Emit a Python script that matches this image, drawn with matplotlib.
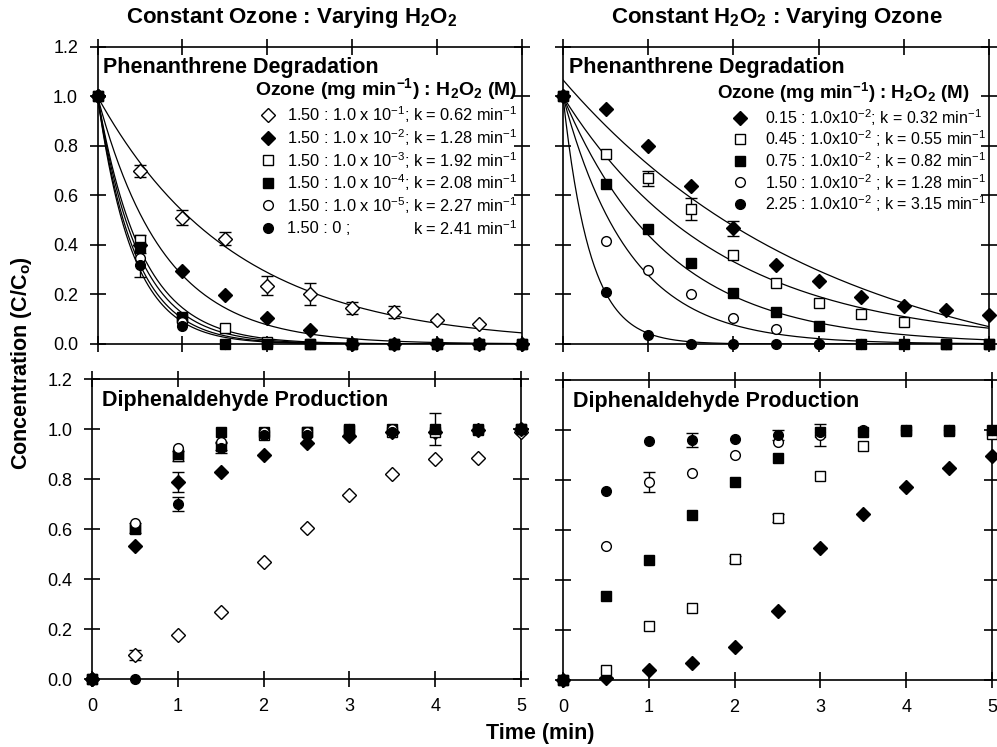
"""Phenanthrene degradation / diphenaldehyde production, 2x2 panel figure."""
import numpy as np
import matplotlib
matplotlib.use("Agg")
import matplotlib.pyplot as plt

plt.rcParams["font.family"] = ["Liberation Sans", "DejaVu Sans"]
plt.rcParams["mathtext.fontset"] = "custom"
plt.rcParams["mathtext.rm"] = "Liberation Sans"
plt.rcParams["mathtext.it"] = "Liberation Sans:italic"
plt.rcParams["mathtext.bf"] = "Liberation Sans:bold"

nan = np.nan
time = [0, 0.5, 1, 1.5, 2, 2.5, 3, 3.5, 4, 4.5, 5]

# ---- constant ozone, varying H2O2 ----
left_labels = [r"1.50 : 1.0 x 10$^{-1}$;", r"1.50 : 1.0 x 10$^{-2}$;",
               r"1.50 : 1.0 x 10$^{-3}$;", r"1.50 : 1.0 x 10$^{-4}$;",
               r"1.50 : 1.0 x 10$^{-5}$;", "1.50 : 0 ;"]
left_k = [0.62, 1.28, 1.92, 2.08, 2.27, 2.41]

phen_left = [
    [1.0, 0.70, 0.51, 0.425, 0.236, 0.202, 0.147, 0.131, 0.097, 0.081, nan],
    [1.0, 0.40, 0.295, 0.198, 0.106, 0.057, 0.0, 0.0, 0.0, 0.0, 0.0],
    [1.0, 0.42, 0.11, 0.063, 0.01, 0.0, 0.0, 0.0, 0.0, 0.0, 0.0],
    [1.0, 0.393, 0.104, 0.0, 0.0, 0.0, 0.0, 0.0, 0.0, 0.0, 0.0],
    [1.0, 0.346, 0.09, 0.0, 0.0, 0.0, 0.0, 0.0, 0.0, 0.0, 0.0],
    [1.0, 0.319, 0.074, 0.0, 0.0, 0.0, 0.0, 0.0, 0.0, 0.0, 0.0],
]
phen_left_err = [
    [nan, 0.024, 0.03, 0.027, 0.037, 0.045, 0.024, 0.024, nan, nan, nan],
    [nan] * 11,
    [nan, 0.02, nan, nan, nan, nan, nan, nan, nan, nan, nan],
    [nan] * 11,
    [nan] * 11,
    [nan, 0.05, nan, nan, nan, nan, nan, nan, nan, nan, nan],
]
diph_left = [
    [0.0, 0.096, 0.175, 0.269, 0.467, 0.605, 0.736, 0.819, 0.879, 0.885, 0.99],
    [0.0, 0.532, 0.789, 0.827, 0.896, 0.945, 0.972, 0.987, 0.99, 0.996, 1.0],
    [0.0, 0.603, 0.893, 0.933, 0.976, 0.987, 0.996, 0.99, 0.99, 0.996, 1.0],
    [0.0, 0.60, 0.90, 0.989, 0.99, 0.99, 1.0, 1.0, 1.0, 1.0, 1.0],
    [0.0, 0.623, 0.923, 0.95, 0.99, 0.99, 1.0, 1.0, 1.0, 1.0, 1.0],
    [0.0, 0.0, 0.70, 0.923, 0.975, 0.975, 1.0, 0.99, 1.0, 1.0, 1.0],
]
diph_left_err = [
    [nan, 0.02, nan, nan, nan, nan, nan, nan, nan, nan, nan],
    [nan, nan, 0.039, nan, nan, nan, nan, nan, nan, nan, nan],
    [nan, 0.02, 0.02, 0.015, nan, nan, nan, nan, nan, nan, nan],
    [nan, nan, nan, nan, nan, nan, nan, nan, 0.065, nan, nan],
    [nan] * 11,
    [nan, nan, 0.027, 0.02, nan, nan, nan, nan, nan, nan, nan],
]

# ---- constant H2O2, varying ozone ----
right_labels = [r"0.15 : 1.0x10$^{-2}$; k = 0.32 min$^{-1}$",
                r"0.45 : 1.0x10$^{-2}$ ; k = 0.55 min$^{-1}$",
                r"0.75 : 1.0x10$^{-2}$ ; k = 0.82 min$^{-1}$",
                r"1.50 : 1.0x10$^{-2}$ ; k = 1.28 min$^{-1}$",
                r"2.25 : 1.0x10$^{-2}$ ; k = 3.15 min$^{-1}$"]
right_k = [0.32, 0.55, 0.82, 1.28, 3.15]
# fitted curve a*exp(-k t) + c
right_fit_a = [1.249, 1.0, 1.0, 1.0, 1.0]
right_fit_c = [-0.182, 0.0, 0.0, 0.0, 0.0]

phen_right = [
    [1.0, 0.948, 0.80, 0.64, 0.467, 0.319, 0.256, 0.189, 0.155, 0.137, 0.117],
    [1.0, 0.766, 0.67, 0.544, 0.36, 0.245, 0.164, 0.12, 0.09, 0.0, 0.0],
    [1.0, 0.646, 0.465, 0.326, 0.207, 0.131, 0.073, 0.0, 0.0, 0.0, 0.0],
    [1.0, 0.416, 0.299, 0.20, 0.104, 0.06, 0.0, 0.0, 0.0, 0.0, 0.0],
    [1.0, 0.211, 0.036, 0.0, 0.0, 0.0, 0.0, 0.0, 0.0, 0.0, 0.0],
]
phen_right_err = [
    [nan, nan, nan, nan, 0.03, nan, nan, nan, nan, nan, nan],
    [nan, nan, 0.03, 0.045, nan, nan, nan, nan, nan, nan, nan],
    [nan] * 11,
    [nan] * 11,
    [nan] * 11,
]
diph_right = [
    [0.0, 0.007, 0.04, 0.069, 0.133, 0.276, 0.527, 0.664, 0.771, 0.847, 0.897],
    [0.0, 0.04, 0.217, 0.287, 0.483, 0.649, 0.817, 0.937, 1.0, 1.0, 0.984],
    [0.0, 0.336, 0.48, 0.66, 0.793, 0.887, 0.993, 0.993, 0.997, 0.996, 1.0],
    [0.0, 0.536, 0.793, 0.83, 0.90, 0.953, 0.98, 1.0, 1.0, 1.0, 1.0],
    [0.0, 0.756, 0.957, 0.96, 0.963, 0.98, 0.993, 0.996, 1.0, 1.0, 1.0],
]
diph_right_err = [
    [nan] * 11,
    [nan, nan, nan, nan, 0.015, 0.015, nan, nan, nan, nan, nan],
    [nan] * 11,
    [nan, nan, 0.04, nan, nan, nan, 0.045, nan, nan, nan, nan],
    [nan, nan, nan, 0.027, nan, 0.02, nan, nan, nan, nan, nan],
]

# marker style per series: (marker, filled)
left_styles = [("D", False), ("D", True), ("s", False), ("s", True), ("o", False), ("o", True)]
right_styles = [("D", True), ("s", False), ("s", True), ("o", False), ("o", True)]
MS = {"D": 7.5, "s": 6.5, "o": 7}

W, H = 997, 747
fig = plt.figure(figsize=(W / 100, H / 100), dpi=100)


def px_axes(x0, x1, ytop, ybot):
    return fig.add_axes([x0 / W, (H - ybot) / H, (x1 - x0) / W, (ybot - ytop) / H])


ax_tl = px_axes(97.5, 521.5, 47, 344)
ax_tr = px_axes(563, 989, 47, 344)
ax_bl = px_axes(92, 521, 379, 679)
ax_br = px_axes(563, 992, 380, 680)


def draw_points(ax, data, errs, styles):
    for y, e, (m, filled) in zip(data, errs, styles):
        ax.errorbar(time, y, yerr=e, fmt=m, ms=MS[m], mfc="black" if filled else "white",
                    mec="black", mew=1.0, ecolor="black", elinewidth=1.0,
                    capsize=4, capthick=1.0, clip_on=False, zorder=3)


def style_axes(ax, xlabels, ylabels):
    ax.set_xlim(0, 5)
    ax.set_ylim(0, 1.2)
    ax.set_xticks(range(6))
    ax.set_yticks(np.arange(0, 1.21, 0.2))
    ax.tick_params(direction="inout", length=12, width=1.2, top=True, right=True,
                   labelsize=13, pad=8,
                   labelbottom=xlabels, labelleft=ylabels)
    if ylabels:
        ax.set_yticklabels([f"{v:.1f}" for v in np.arange(0, 1.21, 0.2)])
    for s in ax.spines.values():
        s.set_linewidth(1.2)


tfit = np.linspace(0, 5, 300)

# top-left
for k in left_k:
    ax_tl.plot(tfit, np.exp(-k * tfit), color="black", lw=0.9, zorder=2)
draw_points(ax_tl, phen_left, phen_left_err, left_styles)
# top-right
for a, k, c in zip(right_fit_a, right_k, right_fit_c):
    ax_tr.plot(tfit, a * np.exp(-k * tfit) + c, color="black", lw=0.9, zorder=2)
draw_points(ax_tr, phen_right, phen_right_err, right_styles)
# bottom
draw_points(ax_bl, diph_left, diph_left_err, left_styles)
draw_points(ax_br, diph_right, diph_right_err, right_styles)

style_axes(ax_tl, False, True)
style_axes(ax_tr, False, False)
style_axes(ax_bl, True, True)
style_axes(ax_br, True, False)

TFS = 15.5
for ax in (ax_tl, ax_tr):
    ax.text(0.014, 0.911, "Phenanthrene Degradation", transform=ax.transAxes,
            fontsize=TFS, fontweight="bold", va="baseline")
for ax in (ax_bl, ax_br):
    ax.text(0.023, 0.91, "Diphenaldehyde Production", transform=ax.transAxes,
            fontsize=TFS, fontweight="bold", va="baseline")

header = r"Ozone (mg min$^{\mathbf{-1}}$) : H$_\mathbf{2}$O$_\mathbf{2}$ (M)"
LFS = 11.8

# legend, top-left
ax_tl.text(0.371, 0.858, header, transform=ax_tl.transAxes, fontsize=14,
           fontweight="bold", va="center")
rows_l = [0.772, 0.695, 0.619, 0.543, 0.467, 0.390]
for fy, lab, k, (m, filled) in zip(rows_l, left_labels, left_k, left_styles):
    ax_tl.plot([0.402], [fy], m, ms=MS[m], mfc="black" if filled else "white",
               mec="black", mew=1.0, transform=ax_tl.transAxes, clip_on=False)
    ax_tl.text(0.447, fy, lab, transform=ax_tl.transAxes, fontsize=LFS, va="center")
    ax_tl.text(0.745, fy, rf"k = {k:.2f} min$^{{-1}}$", transform=ax_tl.transAxes,
               fontsize=LFS, va="center")

# legend, top-right
ax_tr.text(0.361, 0.845, header, transform=ax_tr.transAxes, fontsize=13.5,
           fontweight="bold", va="center")
rows_r = [0.762, 0.690, 0.617, 0.544, 0.471]
for fy, lab, (m, filled) in zip(rows_r, right_labels, right_styles):
    ax_tr.plot([0.415], [fy], m, ms=MS[m], mfc="black" if filled else "white",
               mec="black", mew=1.0, transform=ax_tr.transAxes, clip_on=False)
    ax_tr.text(0.475, fy, lab, transform=ax_tr.transAxes, fontsize=11.5, va="center")

# column titles and shared axis labels
CFS = 16
fig.text(292 / W, 1 - 18 / H, r"Constant Ozone : Varying H$_\mathbf{2}$O$_\mathbf{2}$",
         ha="center", va="center", fontsize=CFS, fontweight="bold")
fig.text(777 / W, 1 - 18 / H, r"Constant H$_\mathbf{2}$O$_\mathbf{2}$ : Varying Ozone",
         ha="center", va="center", fontsize=CFS, fontweight="bold")
fig.text(540 / W, 1 - 734 / H, "Time (min)", ha="center", va="center",
         fontsize=TFS, fontweight="bold")
fig.text(22 / W, 1 - 363 / H, r"Concentration (C/C$_\mathbf{o}$)", ha="center",
         va="center", rotation=90, fontsize=TFS, fontweight="bold")

fig.savefig("out.png", dpi=100)
